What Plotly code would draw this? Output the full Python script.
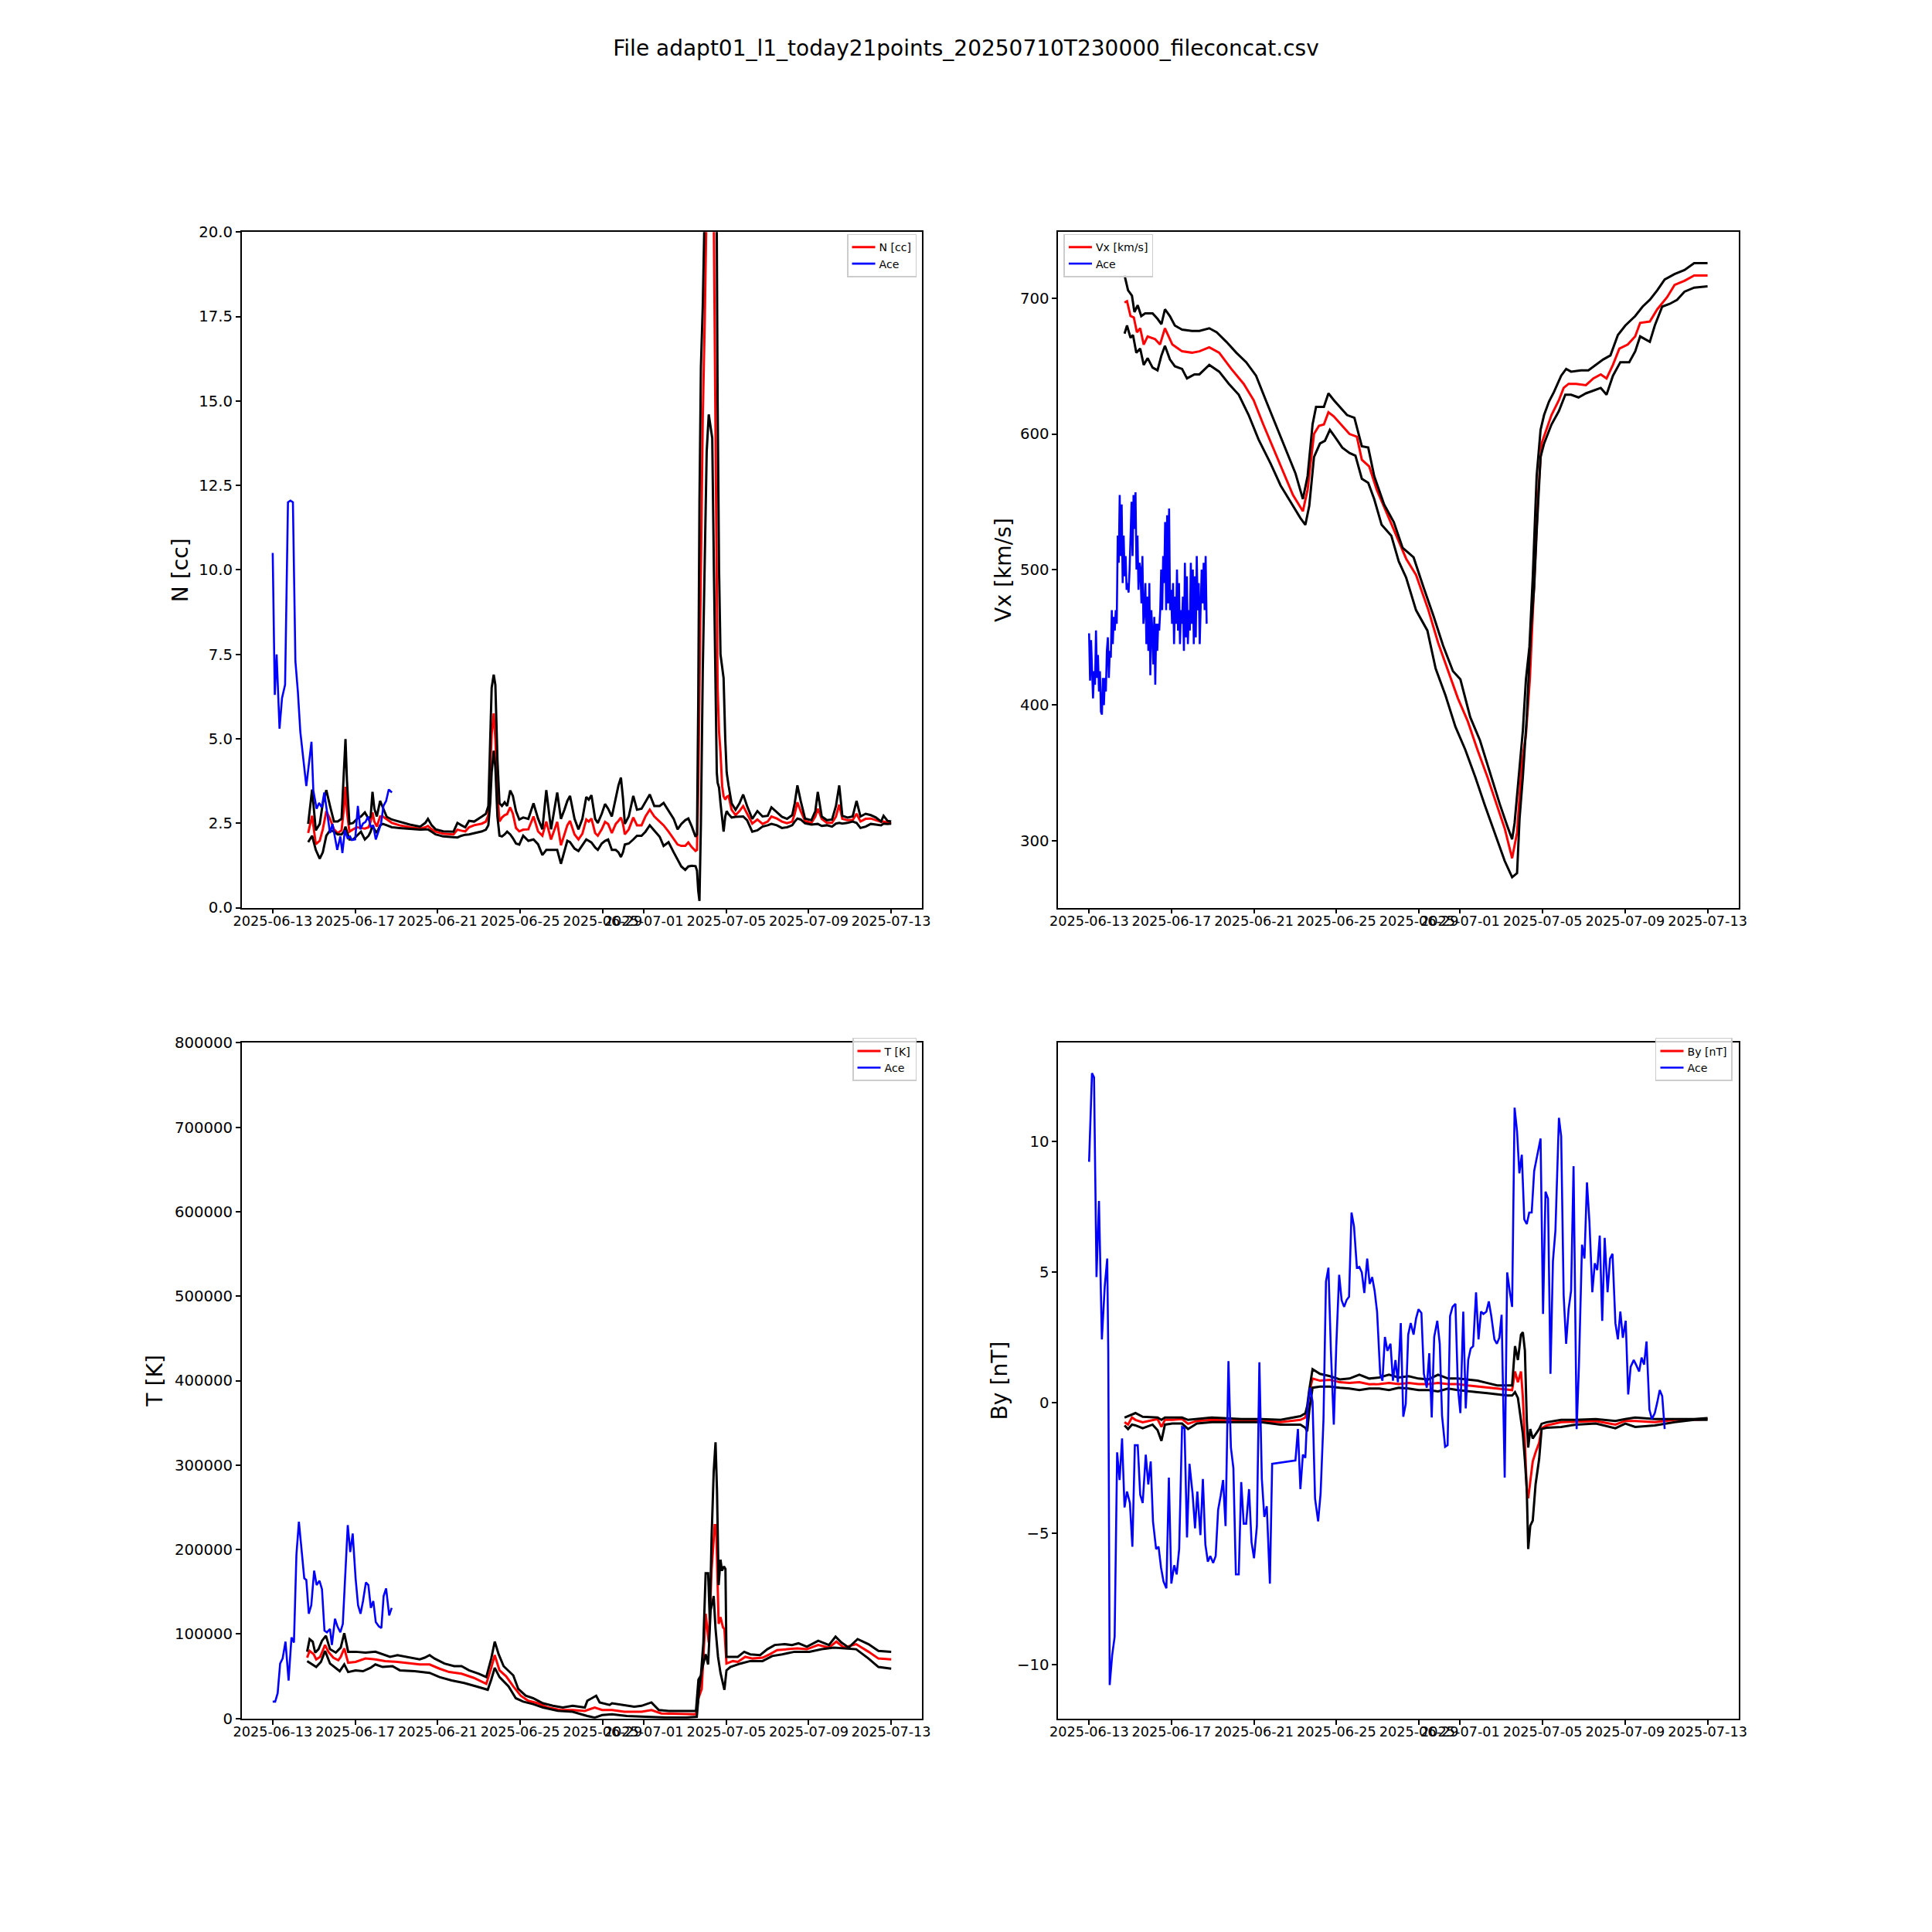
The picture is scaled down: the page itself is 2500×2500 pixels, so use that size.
import pandas as pd
import plotly.graph_objects as go

T0 = pd.Timestamp("2025-06-13 00:00")


def at(days):
    return [T0 + pd.Timedelta(days=d) for d in days]


TITLE = "File adapt01_l1_today21points_20250710T230000_fileconcat.csv"
TICK_DATES = ["2025-06-13", "2025-06-17", "2025-06-21", "2025-06-25", "2025-06-29",
              "2025-07-01", "2025-07-05", "2025-07-09", "2025-07-13"]
X_RANGE = ["2025-06-11 12:00", "2025-07-14 12:00"]

# ---------------- N [cc] ----------------
n_days = [1.72, 1.91, 2.09, 2.28, 2.43, 2.60, 2.78, 2.97, 3.15, 3.34,
          3.45, 3.53, 3.60, 3.72, 3.90, 4.09, 4.28, 4.47, 4.65, 4.75,
          4.84, 4.93, 5.05, 5.21, 5.34, 5.53, 5.78, 6.15, 6.65, 7.15,
          7.40, 7.53, 7.71, 7.90, 8.27, 8.77, 8.96, 9.15, 9.34, 9.52,
          9.77, 10.15, 10.34, 10.46, 10.55, 10.62, 10.72, 10.80, 10.90, 11.00,
          11.12, 11.25, 11.37, 11.52, 11.65, 11.80, 11.96, 12.15, 12.40, 12.65,
          12.87, 13.08, 13.27, 13.50, 13.80, 13.98, 14.15, 14.29, 14.42, 14.64,
          14.83, 15.02, 15.21, 15.33, 15.46, 15.64,
          15.77, 15.96, 16.12, 16.27, 16.45, 16.64, 16.77, 16.89, 16.99, 17.08,
          17.27, 17.49, 17.67, 17.89, 18.08, 18.29, 18.51, 18.77, 18.96, 19.20,
          19.45, 19.64, 19.82, 20.01, 20.16, 20.33, 20.51, 20.58,
          20.64, 20.70, 20.77, 20.86, 20.96, 21.05, 21.15, 21.25, 21.32, 21.40,
          21.48, 21.54, 21.58, 21.65, 21.72, 21.80, 21.87, 21.95,
          22.02, 22.11, 22.26, 22.45, 22.64, 22.82, 23.01, 23.26, 23.51, 23.76,
          24.01, 24.19, 24.45, 24.70, 24.95, 25.20, 25.32, 25.45, 25.61, 25.82,
          26.13, 26.32, 26.44, 26.63, 26.88, 27.13, 27.32, 27.48, 27.63, 27.88,
          28.13, 28.32, 28.51, 28.76, 29.01, 29.26, 29.51, 29.63, 29.82, 30.00]
n_mid = [2.21, 2.72, 1.88, 1.98, 2.32, 2.86, 2.63, 2.32, 2.21, 2.29,
         2.93, 3.58, 2.86, 2.25, 2.32, 2.38, 2.36, 2.34, 2.38, 2.55,
         2.82, 2.55, 2.40, 2.70, 2.70, 2.61, 2.51, 2.44, 2.38, 2.34,
         2.38, 2.42, 2.32, 2.25, 2.19, 2.17, 2.31, 2.28, 2.26, 2.38,
         2.44, 2.49, 2.55, 2.74, 4.00, 5.14, 5.75, 4.99, 3.39, 2.55,
         2.67, 2.74, 2.77, 2.97, 2.78, 2.36, 2.26, 2.31, 2.32, 2.70,
         2.26, 2.13, 2.55, 2.02, 2.54, 1.85, 2.17, 2.44, 2.57, 2.17,
         2.02, 2.19, 2.61, 2.55, 2.64, 2.21,
         2.13, 2.32, 2.54, 2.48, 2.21, 2.48, 2.57, 2.67, 2.48, 2.17,
         2.32, 2.67, 2.44, 2.44, 2.70, 2.90, 2.70, 2.55, 2.44, 2.25,
         2.02, 1.87, 1.83, 1.83, 1.93, 1.79, 1.68, 1.71,
         3.5, 6.5, 10.0, 14.5, 17.5, 21.0, 25.0, 25.0, 23.0, 20.0,
         14.0, 8.0, 6.5, 5.2, 4.6, 3.6, 3.3, 3.2,
         3.28, 3.31, 2.90, 2.74, 2.86, 3.01, 2.78, 2.49, 2.61, 2.48,
         2.55, 2.70, 2.64, 2.55, 2.50, 2.55, 2.78, 3.12, 2.86, 2.57,
         2.51, 2.70, 2.93, 2.63, 2.51, 2.51, 2.70, 3.05, 2.63, 2.59,
         2.59, 2.78, 2.55, 2.63, 2.64, 2.59, 2.54, 2.55, 2.51, 2.49]
n_hi = [2.48, 3.50, 2.29, 2.48, 3.09, 3.48, 3.01, 2.55, 2.55, 2.63,
        4.00, 4.99, 3.77, 2.48, 2.51, 2.63, 2.70, 2.82, 2.63, 2.70,
        3.43, 2.93, 2.70, 3.16, 2.97, 2.69, 2.61, 2.54, 2.46, 2.40,
        2.51, 2.63, 2.44, 2.32, 2.26, 2.25, 2.51, 2.44, 2.38, 2.57,
        2.55, 2.70, 2.78, 3.01, 4.76, 6.51, 6.90, 6.59, 4.38, 3.09,
        3.01, 3.12, 3.01, 3.47, 3.31, 2.86, 2.61, 2.67, 2.63, 3.09,
        2.64, 2.32, 3.48, 2.32, 3.41, 2.63, 2.90, 3.16, 3.31, 2.63,
        2.32, 2.63, 3.28, 3.20, 3.33, 2.63,
        2.51, 2.78, 3.07, 2.93, 2.70, 3.24, 3.62, 3.85, 3.24, 2.48,
        2.70, 3.31, 2.90, 2.93, 3.12, 3.35, 3.01, 3.01, 3.10, 2.86,
        2.63, 2.32, 2.48, 2.59, 2.64, 2.40, 2.10, 2.17,
        6.0, 12.0, 16.0, 17.8, 21.0, 26.0, 30.0, 30.0, 28.0, 25.0,
        22.0, 20.0, 15.0, 10.0, 7.5, 7.1, 6.8, 5.0,
        4.00, 3.62, 3.09, 2.90, 3.09, 3.35, 3.01, 2.63, 2.86, 2.70,
        2.72, 2.97, 2.82, 2.69, 2.63, 2.74, 3.09, 3.62, 3.16, 2.64,
        2.59, 2.86, 3.43, 2.70, 2.59, 2.61, 3.01, 3.62, 2.72, 2.67,
        2.70, 3.16, 2.70, 2.78, 2.74, 2.67, 2.55, 2.72, 2.57, 2.55]
n_lo = [1.94, 2.13, 1.71, 1.45, 1.64, 2.13, 2.29, 2.25, 2.17, 2.17,
        2.25, 2.40, 2.25, 2.02, 2.02, 2.13, 2.25, 2.02, 2.13, 2.25,
        2.44, 2.32, 2.21, 2.44, 2.48, 2.44, 2.38, 2.36, 2.34, 2.31,
        2.32, 2.32, 2.25, 2.17, 2.11, 2.08, 2.08, 2.13, 2.16, 2.17,
        2.21, 2.26, 2.31, 2.44, 3.09, 4.00, 4.65, 4.15, 2.70, 2.13,
        2.11, 2.17, 2.25, 2.17, 2.06, 1.90, 1.87, 2.13, 1.98, 2.02,
        1.88, 1.56, 1.71, 1.71, 1.71, 1.30, 1.71, 1.98, 1.94, 1.75,
        1.68, 1.85, 2.02, 1.98, 1.93, 1.78,
        1.71, 1.90, 1.98, 2.02, 1.71, 1.71, 1.64, 1.50, 1.64, 1.87,
        1.90, 2.02, 2.13, 2.13, 2.25, 2.44, 2.29, 2.10, 1.83, 1.94,
        1.64, 1.41, 1.22, 1.12, 1.22, 1.24, 1.23, 1.10,
        0.5, 0.2, 2.5, 7.0, 11.0, 13.5, 14.6, 14.2, 13.9, 10.0,
        6.0, 4.0, 3.7, 3.55, 3.1, 2.6, 2.25, 2.7,
        2.86, 2.77, 2.67, 2.69, 2.70, 2.70, 2.59, 2.25, 2.29, 2.40,
        2.44, 2.48, 2.44, 2.36, 2.38, 2.44, 2.55, 2.64, 2.61, 2.50,
        2.46, 2.48, 2.48, 2.42, 2.44, 2.40, 2.49, 2.51, 2.49, 2.51,
        2.55, 2.51, 2.36, 2.40, 2.48, 2.46, 2.44, 2.49, 2.48, 2.49]
ace_n_days = [0.00, 0.10, 0.19, 0.33, 0.45, 0.60, 0.74, 0.86, 0.98, 1.10,
              1.22, 1.34, 1.63, 1.88, 1.97, 2.13, 2.25, 2.38, 2.50, 2.65,
              2.78, 2.90, 3.03, 3.13, 3.28, 3.38, 3.50, 3.63, 3.75, 3.84,
              4.00, 4.13, 4.25, 4.38, 4.50, 4.63, 4.75, 4.88, 5.00, 5.13,
              5.25, 5.37, 5.50, 5.63, 5.78]
ace_n = [10.5, 6.3, 7.5, 5.3, 6.2, 6.6, 12.0, 12.05, 12.0, 7.3,
         6.4, 5.2, 3.6, 4.91, 3.47, 2.93, 3.10, 2.97, 3.41, 2.70,
         2.21, 2.48, 2.06, 1.71, 2.11, 1.62, 2.29, 2.06, 2.11, 2.00,
         2.02, 3.01, 2.32, 2.49, 2.54, 2.70, 2.40, 2.42, 2.02, 2.25,
         2.48, 3.01, 3.16, 3.50, 3.41]

# ---------------- Vx [km/s] ----------------
vx_hi_days = [1.72, 1.89, 2.08, 2.20, 2.36, 2.53, 2.72, 3.08, 3.32, 3.51,
              3.68, 3.92, 4.16, 4.51, 4.99, 5.35, 5.83, 6.19, 6.66, 7.14,
              7.62, 8.10, 8.57, 9.05, 9.53, 10.01, 10.37, 10.60, 10.84, 11.01,
              11.39, 11.61, 11.87, 12.16, 12.51, 12.87, 13.23, 13.54, 13.83, 14.31,
              14.78, 15.21, 15.74, 16.22, 16.70, 17.17, 17.65, 18.01, 18.49, 18.96,
              19.44, 19.92, 20.28, 20.52, 20.64, 20.88, 21.04, 21.19, 21.36, 21.52,
              21.71, 21.90, 22.07, 22.31, 22.55, 22.90, 23.14, 23.38, 23.86, 24.22,
              24.58, 24.94, 25.29, 25.65, 26.01, 26.49, 26.85, 27.20, 27.56, 27.92,
              28.40, 28.88, 29.35, 30.00]
vx_hi = [717, 706, 702, 690, 695, 687, 689, 689, 685, 681,
         692, 687, 680, 677, 676, 676, 678, 675, 668, 660,
         653, 643, 625, 607, 590, 571, 552, 569, 607, 620,
         620, 630, 625, 620, 614, 612, 591, 590, 569, 548,
         535, 516, 509, 487, 466, 444, 425, 419, 391, 374,
         350, 327, 311, 301, 313, 354, 381, 419, 443, 494,
         569, 603, 614, 624, 631, 643, 648, 646, 647, 647,
         651, 655, 658, 673, 680, 687, 694, 699, 706, 714,
         718, 721, 726, 726]
vx_mid_days = [1.72, 1.84, 2.01, 2.17, 2.32, 2.48, 2.65, 2.84, 3.20, 3.44,
               3.68, 4.04, 4.51, 4.99, 5.35, 5.83, 6.31, 6.90, 7.50, 7.98,
               8.45, 8.93, 9.41, 9.89, 10.37, 10.60, 10.91, 11.15, 11.39, 11.61,
               11.87, 12.23, 12.63, 12.99, 13.23, 13.59, 13.95, 14.43, 14.90, 15.38,
               15.86, 16.46, 16.93, 17.41, 17.89, 18.37, 18.84, 19.32, 19.80, 20.16,
               20.52, 20.76, 20.99, 21.19, 21.38, 21.59, 21.78, 21.95, 22.19, 22.43,
               22.79, 23.02, 23.26, 23.62, 24.10, 24.46, 24.82, 25.10, 25.41, 25.72,
               26.13, 26.49, 26.73, 27.20, 27.56, 28.04, 28.40, 28.88, 29.35, 30.00]
vx_mid = [697, 698, 687, 686, 675, 678, 666, 672, 670, 666,
          678, 666, 661, 660, 661, 664, 660, 648, 637, 625,
          607, 590, 572, 555, 543, 559, 600, 606, 607, 616,
          613, 607, 600, 598, 581, 576, 559, 542, 525, 508,
          496, 470, 446, 425, 405, 388, 367, 347, 326, 309,
          287, 306, 357, 378, 419, 487, 555, 593, 603, 614,
          625, 634, 637, 637, 636, 641, 644, 641, 651, 663,
          666, 672, 682, 683, 692, 701, 710, 713, 717, 717]
vx_lo_days = [1.72, 1.84, 2.01, 2.13, 2.29, 2.48, 2.65, 2.84, 3.08, 3.32,
              3.51, 3.68, 3.92, 4.16, 4.51, 4.75, 5.11, 5.35, 5.83, 6.31,
              6.78, 7.26, 7.74, 8.22, 8.81, 9.29, 9.77, 10.25, 10.49, 10.68,
              10.91, 11.20, 11.44, 11.68, 11.92, 12.28, 12.63, 12.92, 13.23, 13.54,
              13.83, 14.19, 14.66, 15.02, 15.38, 15.86, 16.41, 16.81, 17.29, 17.77,
              18.25, 18.73, 19.20, 19.68, 20.16, 20.52, 20.76, 20.88, 21.04, 21.23,
              21.42, 21.59, 21.71, 21.90, 22.07, 22.43, 22.79, 23.10, 23.38, 23.74,
              24.10, 24.46, 24.82, 25.10, 25.41, 25.77, 26.20, 26.49, 26.73, 27.20,
              27.44, 27.80, 28.16, 28.52, 28.88, 29.35, 30.00]
vx_lo = [674, 680, 671, 673, 660, 663, 651, 656, 649, 647,
         658, 665, 655, 650, 648, 641, 644, 644, 651, 646,
         637, 629, 614, 596, 578, 562, 550, 538, 533, 547,
         583, 593, 595, 603, 598, 590, 586, 584, 567, 564,
         552, 533, 525, 506, 494, 470, 455, 427, 407, 384,
         367, 347, 326, 306, 285, 273, 276, 316, 347, 391,
         453, 487, 528, 583, 593, 607, 617, 629, 629, 627,
         630, 632, 634, 629, 643, 653, 653, 661, 672, 668,
         680, 694, 696, 699, 705, 708, 709]
ace_vx_start = "2025-06-13 00:00"
ace_vx_step = "69min"
ace_vx = [453, 418, 448, 420, 405, 425, 415, 455, 420, 437,
          410, 425, 395, 393, 420, 400, 420, 410, 440, 450,
          420, 440, 435, 470, 445, 465, 455, 470, 460, 525,
          505, 555, 510, 548, 490, 525, 495, 510, 485, 490,
          483, 500, 520, 550, 510, 555, 530, 557, 500, 525,
          485, 505, 500, 475, 510, 460, 470, 490, 445, 480,
          440, 490, 422, 470, 455, 430, 465, 415, 460, 440,
          460, 455, 470, 500, 470, 510, 490, 535, 470, 540,
          475, 545, 470, 485, 460, 490, 445, 480, 460, 500,
          455, 490, 445, 470, 460, 480, 440, 505, 450, 495,
          445, 470, 455, 505, 460, 500, 445, 495, 450, 510,
          470, 490, 445, 480, 500, 475, 505, 470, 510, 460]

# ---------------- T [K] ----------------
t_hi_days = [1.67, 1.79, 1.94, 2.06, 2.22, 2.39, 2.58, 2.78, 3.06, 3.30,
             3.47, 3.66, 4.02, 4.50, 4.98, 5.33, 5.69, 6.05, 6.65, 7.13,
             7.37, 7.61, 7.85, 8.33, 8.80, 9.16, 9.52, 10.00, 10.36, 10.60,
             10.77, 10.96, 11.20, 11.44, 11.67, 11.91, 12.27, 12.63, 13.11, 13.59,
             14.07, 14.55, 15.14, 15.26, 15.69, 15.86, 16.34, 16.46, 17.06, 17.54,
             17.89, 18.37, 18.73, 19.21, 20.05, 20.53, 20.65, 20.77, 20.89, 21.00,
             21.12, 21.20, 21.29, 21.39, 21.48, 21.55, 21.63, 21.72, 21.79, 21.89,
             21.96, 22.01, 22.20, 22.56, 22.87, 23.16, 23.64, 23.99, 24.35, 24.83,
             25.19, 25.50, 25.91, 26.46, 26.98, 27.30, 27.58, 27.94, 28.37, 28.90,
             29.38, 30.00]
t_hi = [79000, 94000, 91000, 78000, 82000, 92000, 98000, 82000, 78000, 84000,
        101000, 79000, 79000, 78000, 79000, 76000, 73000, 75000, 72000, 70000,
        72000, 75000, 71000, 65000, 62000, 62000, 57000, 53000, 49000, 71000,
        91000, 76000, 62000, 56000, 51000, 35000, 27000, 24000, 18000, 15000,
        13000, 15000, 13000, 21000, 27000, 19000, 16000, 18000, 16000, 14000,
        15000, 19000, 10000, 9000, 9000, 9000, 46000, 51000, 90000, 172000,
        172000, 117000, 216000, 292000, 327000, 270000, 158000, 188000, 175000, 180000,
        177000, 73000, 73000, 73000, 79000, 76000, 75000, 82000, 87000, 88000,
        87000, 89000, 85000, 92000, 87000, 97000, 90000, 84000, 94000, 88000,
        80000, 79000]
t_mid_days = [1.67, 1.79, 1.99, 2.11, 2.30, 2.54, 2.70, 2.94, 3.18, 3.30,
              3.47, 3.66, 4.02, 4.50, 4.98, 5.45, 6.05, 6.65, 7.13, 7.61,
              8.09, 8.56, 9.16, 9.76, 10.36, 10.60, 10.77, 11.00, 11.32, 11.67,
              12.03, 12.39, 12.87, 13.35, 13.95, 14.55, 15.14, 15.62, 15.98, 16.46,
              17.06, 17.89, 18.37, 18.85, 20.05, 20.53, 20.65, 20.81, 21.00, 21.15,
              21.29, 21.44, 21.51, 21.63, 21.72, 21.84, 21.91, 22.01, 22.32, 22.56,
              22.92, 23.28, 23.76, 24.11, 24.47, 24.95, 25.43, 25.91, 26.46, 26.98,
              27.34, 27.70, 28.30, 28.90, 29.38, 30.00]
t_mid = [72000, 80000, 76000, 70000, 73000, 87000, 79000, 72000, 69000, 73000,
         83000, 66000, 67000, 71000, 70000, 68000, 67000, 65000, 64000, 64000,
         59000, 55000, 53000, 48000, 41000, 60000, 75000, 57000, 50000, 38000,
         27000, 21000, 18000, 13000, 10000, 10000, 9000, 13000, 10000, 10000,
         8000, 8000, 10000, 6000, 5000, 5000, 24000, 35000, 124000, 90000,
         177000, 229000, 229000, 112000, 120000, 108000, 106000, 65000, 68000, 67000,
         73000, 71000, 72000, 76000, 81000, 82000, 83000, 82000, 87000, 84000,
         91000, 84000, 88000, 79000, 71000, 70000]
t_lo_days = [1.67, 1.87, 2.11, 2.34, 2.54, 2.78, 3.06, 3.25, 3.47, 3.66,
             4.02, 4.38, 4.74, 4.98, 5.33, 5.81, 6.17, 6.89, 7.61, 8.09,
             8.68, 9.28, 9.88, 10.43, 10.60, 10.77, 11.00, 11.44, 11.79, 12.15,
             12.63, 13.11, 13.83, 14.55, 15.26, 15.62, 15.98, 16.46, 17.18, 18.13,
             19.09, 20.05, 20.57, 20.67, 20.81, 21.00, 21.12, 21.24, 21.39, 21.48,
             21.60, 21.72, 21.84, 21.91, 22.01, 22.20, 22.68, 23.16, 23.76, 24.23,
             24.71, 25.31, 26.03, 26.63, 27.22, 27.82, 28.30, 28.90, 29.38, 30.00]
t_lo = [68000, 65000, 61000, 67000, 80000, 65000, 60000, 56000, 64000, 55000,
        57000, 56000, 60000, 64000, 61000, 62000, 57000, 56000, 54000, 49000,
        45000, 42000, 38000, 34000, 46000, 60000, 49000, 38000, 24000, 20000,
        17000, 13000, 9000, 8000, 3000, 1000, 4000, 5000, 3000, 2000,
        1000, 1000, 2000, 30000, 57000, 76000, 64000, 128000, 145000, 106000,
        73000, 54000, 43000, 34000, 57000, 61000, 65000, 68000, 68000, 74000,
        76000, 79000, 79000, 82000, 84000, 83000, 82000, 71000, 61000, 59000]
ace_t_days = [0.00, 0.12, 0.24, 0.36, 0.48, 0.62, 0.77, 0.91, 1.03, 1.15,
              1.27, 1.39, 1.53, 1.63, 1.75, 1.87, 2.01, 2.13, 2.27, 2.39,
              2.51, 2.63, 2.78, 2.87, 3.02, 3.14, 3.28, 3.40, 3.52, 3.64,
              3.76, 3.88, 4.02, 4.14, 4.26, 4.38, 4.52, 4.64, 4.76, 4.88,
              5.00, 5.15, 5.27, 5.38, 5.50, 5.65, 5.77]
ace_t = [20000, 20000, 30000, 65000, 71000, 91000, 45000, 96000, 90000, 194000,
         233000, 205000, 166000, 164000, 124000, 134000, 175000, 158000, 163000, 153000,
         104000, 102000, 106000, 87000, 118000, 109000, 102000, 112000, 172000, 229000,
         197000, 219000, 166000, 134000, 124000, 139000, 161000, 158000, 131000, 139000,
         114000, 109000, 107000, 145000, 154000, 122000, 131000]

# ---------------- By [nT] ----------------
by_days = [1.72, 1.89, 2.08, 2.25, 2.60, 3.08, 3.32, 3.51, 3.68, 4.04,
           4.51, 4.80, 5.23, 5.95, 7.38, 8.34, 9.29, 10.25, 10.49, 10.58,
           10.68, 10.84, 11.20, 11.68, 12.16, 12.63, 13.11, 13.59, 14.07, 14.55,
           15.02, 15.50, 15.98, 16.46, 16.93, 17.41, 17.89, 18.37, 18.84, 19.32,
           19.80, 20.28, 20.52, 20.66, 20.80, 20.95, 21.04, 21.14, 21.23, 21.30,
           21.40, 21.52, 21.66, 21.83, 21.95, 22.19, 22.90, 23.62, 24.58, 25.53,
           26.01, 26.49, 27.44, 28.40, 29.35, 30.00]
by_hi = [-0.56, -0.50, -0.44, -0.39, -0.53, -0.56, -0.56, -0.65, -0.56, -0.56,
         -0.56, -0.65, -0.62, -0.56, -0.62, -0.62, -0.65, -0.51, -0.40, -0.12,
         0.50, 1.29, 1.11, 1.02, 0.90, 0.93, 1.08, 0.93, 0.97, 1.08,
         0.97, 1.02, 0.93, 0.90, 1.08, 0.93, 0.93, 0.90, 0.85, 0.76,
         0.67, 0.67, 0.67, 2.17, 1.64, 2.61, 2.70, 2.00, -0.65, -1.71,
         -1.00, -1.36, -1.18, -1.00, -0.80, -0.74, -0.65, -0.65, -0.62, -0.69,
         -0.62, -0.56, -0.62, -0.62, -0.62, -0.58]
by_mid = [-0.74, -0.83, -0.56, -0.65, -0.74, -0.65, -0.62, -0.92, -0.65, -0.65,
          -0.62, -0.80, -0.69, -0.65, -0.69, -0.69, -0.74, -0.65, -0.56, -0.30,
          0.41, 0.93, 0.85, 0.88, 0.79, 0.76, 0.79, 0.71, 0.72, 0.76,
          0.72, 0.76, 0.72, 0.72, 0.76, 0.72, 0.72, 0.67, 0.63, 0.58,
          0.53, 0.49, 0.49, 1.20, 0.79, 1.20, 0.23, -1.53, -3.30, -3.65,
          -3.00, -2.24, -1.89, -1.53, -0.97, -0.86, -0.74, -0.72, -0.69, -0.83,
          -0.69, -0.69, -0.74, -0.65, -0.65, -0.62]
by_lo = [-0.86, -1.00, -0.83, -0.86, -0.97, -0.83, -1.04, -1.45, -0.83, -0.79,
         -0.79, -1.00, -0.79, -0.74, -0.74, -0.74, -0.83, -0.83, -0.95, -1.09,
         -0.30, 0.58, 0.62, 0.62, 0.58, 0.55, 0.49, 0.55, 0.55, 0.49,
         0.58, 0.55, 0.49, 0.49, 0.44, 0.55, 0.49, 0.46, 0.41, 0.37,
         0.32, 0.28, 0.28, 0.41, 0.19, -0.65, -1.18, -2.20, -3.30, -5.59,
         -4.70, -4.50, -3.10, -2.15, -1.00, -0.95, -0.92, -0.83, -0.79, -0.97,
         -0.79, -0.92, -0.86, -0.74, -0.65, -0.65]
ace_by_days = [0.00, 0.14, 0.24, 0.36, 0.48, 0.62, 0.76, 0.88, 0.93, 1.00,
               1.12, 1.24, 1.36, 1.48, 1.60, 1.72, 1.84, 1.98, 2.10, 2.22,
               2.36, 2.48, 2.60, 2.75, 2.87, 2.99, 3.10, 3.25, 3.37, 3.49,
               3.61, 3.75, 3.87, 3.99, 4.13, 4.25, 4.37, 4.51, 4.63, 4.75,
               4.87, 5.02, 5.14, 5.25, 5.40, 5.52, 5.64, 5.76, 5.88, 6.02,
               6.14, 6.26, 6.38, 6.50, 6.62, 6.76, 6.88, 7.00, 7.12, 7.26,
               7.38, 7.50, 7.62, 7.76, 7.88, 8.00, 8.14, 8.26, 8.38, 8.50,
               8.62, 8.77, 8.88, 10.01, 10.13, 10.25, 10.37, 10.49, 10.60, 10.72,
               10.84, 10.96, 11.11, 11.23, 11.37, 11.49, 11.61, 11.73, 11.87, 11.99,
               12.13, 12.25, 12.37, 12.49, 12.61, 12.73, 12.85, 12.99, 13.11, 13.23,
               13.35, 13.49, 13.61, 13.73, 13.85, 13.97, 14.12, 14.23, 14.35, 14.47,
               14.62, 14.74, 14.86, 14.98, 15.12, 15.24, 15.36, 15.48, 15.60, 15.74,
               15.86, 15.98, 16.12, 16.24, 16.38, 16.50, 16.62, 16.74, 16.89, 17.01,
               17.12, 17.27, 17.39, 17.51, 17.63, 17.77, 17.89, 18.01, 18.15, 18.27,
               18.39, 18.51, 18.63, 18.77, 18.89, 19.01, 19.13, 19.27, 19.39, 19.51,
               19.66, 19.78, 19.90, 20.01, 20.16, 20.28, 20.40, 20.52, 20.64, 20.76,
               20.87, 20.99, 21.11, 21.23, 21.35, 21.47, 21.59, 21.76, 21.90, 22.02,
               22.14, 22.26, 22.38, 22.50, 22.62, 22.79, 22.90, 23.02, 23.14, 23.26,
               23.38, 23.50, 23.65, 23.76, 23.91, 24.03, 24.15, 24.27, 24.41, 24.53,
               24.65, 24.77, 24.89, 25.01, 25.15, 25.27, 25.39, 25.53, 25.65, 25.77,
               25.89, 26.03, 26.15, 26.27, 26.42, 26.53, 26.68, 26.80, 26.92, 27.04,
               27.18, 27.30, 27.44, 27.56, 27.68, 27.80, 27.92]
ace_by = [9.22, 12.61, 12.45, 4.81, 7.72, 2.43, 4.46, 5.52, 1.99, -10.79,
          -9.65, -8.94, -1.89, -2.95, -1.36, -4.00, -3.39, -3.83, -5.50, -1.62,
          -1.62, -3.51, -3.83, -1.98, -3.12, -2.24, -4.53, -5.59, -5.50, -6.30,
          -6.83, -7.09, -2.86, -6.91, -6.21, -6.56, -5.59, -0.92, -0.97, -5.15,
          -2.33, -3.47, -4.80, -3.39, -5.06, -2.91, -5.41, -6.07, -5.86, -6.12,
          -5.86, -4.09, -3.56, -2.95, -4.71, 1.60, -1.71, -2.50, -6.56, -6.56,
          -3.03, -4.62, -4.62, -3.30, -5.33, -5.94, -4.71, 1.55, -2.91, -4.36,
          -3.95, -6.91, -2.33, -2.20, -1.00, -3.30, -1.98, -2.10, -0.12, 0.58,
          0.05, -3.65, -4.53, -3.47, -0.65, 4.64, 5.17, 1.99, -0.83, 2.17,
          4.90, 3.93, 3.67, 3.93, 4.06, 7.28, 6.75, 5.17, 5.20, 4.99,
          4.20, 5.52, 4.55, 4.81, 4.29, 3.49, 1.11, 0.85, 2.52, 1.99,
          2.26, 0.85, 1.64, 0.79, 3.05, -0.53, -0.04, 2.61, 3.05, 2.61,
          3.23, 3.58, 3.44, 1.11, 0.58, 1.90, -0.56, 2.52, 3.14, 2.26,
          -0.48, -1.68, -1.62, 3.32, 3.67, 3.79, 0.58, -0.39, 3.49, -0.21,
          1.64, 2.08, 2.17, 4.23, 2.43, 3.49, 3.40, 3.49, 3.88, 3.32,
          2.43, 2.26, 2.49, 3.37, -2.86, 4.99, 4.29, 3.67, 11.29, 10.37,
          8.78, 9.49, 7.02, 6.84, 7.28, 7.28, 8.87, 9.58, 10.11, 3.40,
          8.08, 7.81, 1.11, 5.43, 6.58, 10.90, 10.19, 4.11, 2.26, 3.58,
          4.29, 9.05, -1.00, 1.38, 6.05, 5.52, 8.43, 6.93, 4.23, 5.34,
          5.08, 6.40, 3.14, 6.31, 4.23, 5.52, 5.70, 3.05, 2.43, 3.49,
          2.49, 3.14, 0.32, 1.38, 1.64, 1.46, 1.20, 1.73, 1.46, 2.35,
          -0.26, -0.62, -0.39, 0.02, 0.49, 0.26, -1.00]

# ---------------- figure ----------------
FONT = "DejaVu Sans"
RED, BLACK, BLUE = "#ff0000", "#000000", "#0000ff"
W = 2500.0


def P(px):
    # compensate the small scale/offset seen between page and captured picture
    return (px - 10.5) / 0.9916


def fx(px):
    return P(px) / W


def fy(px):
    return 1 - P(px) / W


panels = [
    dict(ax="", name="N [cc]", mid=(n_days, n_mid), hi=(n_days, n_hi), lo=(n_days, n_lo),
         ace=(at(ace_n_days), ace_n), legend="legend"),
    dict(ax="2", name="Vx [km/s]", mid=(vx_mid_days, vx_mid), hi=(vx_hi_days, vx_hi),
         lo=(vx_lo_days, vx_lo),
         ace=(list(pd.date_range(ace_vx_start, periods=len(ace_vx), freq=ace_vx_step)), ace_vx),
         legend="legend2"),
    dict(ax="3", name="T [K]", mid=(t_mid_days, t_mid), hi=(t_hi_days, t_hi), lo=(t_lo_days, t_lo),
         ace=(at(ace_t_days), ace_t), legend="legend3"),
    dict(ax="4", name="By [nT]", mid=(by_days, by_mid), hi=(by_days, by_hi), lo=(by_days, by_lo),
         ace=(at(ace_by_days), ace_by), legend="legend4"),
]

fig = go.Figure()
for p in panels:
    xa, ya = "x" + p["ax"], "y" + p["ax"]
    fig.add_trace(go.Scatter(x=at(p["mid"][0]), y=p["mid"][1], mode="lines", name=p["name"],
                             line=dict(color=RED, width=3), xaxis=xa, yaxis=ya, legend=p["legend"]))
    for key in ("hi", "lo"):
        fig.add_trace(go.Scatter(x=at(p[key][0]), y=p[key][1], mode="lines", showlegend=False,
                                 line=dict(color=BLACK, width=3), xaxis=xa, yaxis=ya))
    fig.add_trace(go.Scatter(x=p["ace"][0], y=p["ace"][1], mode="lines", name="Ace",
                             line=dict(color=BLUE, width=2.6), xaxis=xa, yaxis=ya, legend=p["legend"]))

xdom_left = [fx(312.5), fx(1193.2)]
xdom_right = [fx(1369.3), fx(2250)]
ydom_top = [fy(1175), fy(300)]
ydom_bot = [fy(2225), fy(1350)]

common_x = dict(type="date", range=X_RANGE, tickmode="array", tickvals=TICK_DATES, ticktext=TICK_DATES,
                tickangle=0, showgrid=False, zeroline=False, showline=True, linecolor="black",
                linewidth=1.6, mirror=True, ticks="outside", ticklen=6, tickwidth=1.6, tickcolor="black",
                ticklabelstandoff=-6,
                tickfont=dict(family=FONT, size=17.7, color="black"))
common_y = dict(showgrid=False, zeroline=False, showline=True, linecolor="black", linewidth=1.6,
                mirror=True, ticks="outside", ticklen=6, tickwidth=1.6, tickcolor="black",
                tickfont=dict(family=FONT, size=19.7, color="black"))

n_ticks = [0, 2.5, 5, 7.5, 10, 12.5, 15, 17.5, 20]
vx_ticks = [300, 400, 500, 600, 700]
t_ticks = [0, 100000, 200000, 300000, 400000, 500000, 600000, 700000, 800000]
by_ticks = [-10, -5, 0, 5, 10]

fig.update_layout(
    width=2500, height=2500, margin=dict(l=0, r=0, t=0, b=0),
    paper_bgcolor="white", plot_bgcolor="white",
    font=dict(family=FONT, color="black"),
    title=dict(text=TITLE, x=0.5, xanchor="center", y=1 - 62.5 / W, yanchor="middle",
               font=dict(family=FONT, size=28, color="black")),
    xaxis=dict(domain=xdom_left, anchor="y", **common_x),
    yaxis=dict(domain=ydom_top, anchor="x", range=[0, 20], tickvals=n_ticks,
               ticktext=[f"{v:.1f}" for v in n_ticks], **common_y),
    xaxis2=dict(domain=xdom_right, anchor="y2", **common_x),
    yaxis2=dict(domain=ydom_top, anchor="x2", range=[250.5, 749], tickvals=vx_ticks,
                ticktext=[str(v) for v in vx_ticks], **common_y),
    xaxis3=dict(domain=xdom_left, anchor="y3", **common_x),
    yaxis3=dict(domain=ydom_bot, anchor="x3", range=[0, 800000], tickvals=t_ticks,
                ticktext=[str(v) for v in t_ticks], **common_y),
    xaxis4=dict(domain=xdom_right, anchor="y4", **common_x),
    yaxis4=dict(domain=ydom_bot, anchor="x4", range=[-12.07, 13.77], tickvals=by_ticks,
                ticktext=[str(v).replace("-", "\u2212") for v in by_ticks], **common_y),
)

leg_common = dict(bgcolor="rgba(255,255,255,0.8)", bordercolor="#cccccc", borderwidth=1.5,
                  font=dict(family=FONT, size=14.1, color="black"), yanchor="top")
fig.update_layout(
    legend=dict(x=fx(1186), xanchor="right", y=1 - 294.3 / W, **leg_common),
    legend2=dict(x=fx(1376.5), xanchor="left", y=1 - 294.3 / W, **leg_common),
    legend3=dict(x=fx(1186), xanchor="right", y=1 - 1344.3 / W, **leg_common),
    legend4=dict(x=fx(2242.4), xanchor="right", y=1 - 1344.3 / W, **leg_common),
)

ylabels = [("N [cc]", 233.5, 737.5), ("Vx [km/s]", 1298.5, 737.5),
           ("T [K]", 199.7, 1787.5), ("By [nT]", 1294, 1787.5)]
for text, xpx, ypx in ylabels:
    fig.add_annotation(text=text, x=fx(xpx), y=fy(ypx), xref="paper", yref="paper",
                       xanchor="center", yanchor="middle", textangle=-90, showarrow=False,
                       font=dict(family=FONT, size=28.2, color="black"))

fig.write_html("out.html", config={"displayModeBar": False},
               post_script="document.body.style.margin='0px';document.body.style.padding='0px';")
